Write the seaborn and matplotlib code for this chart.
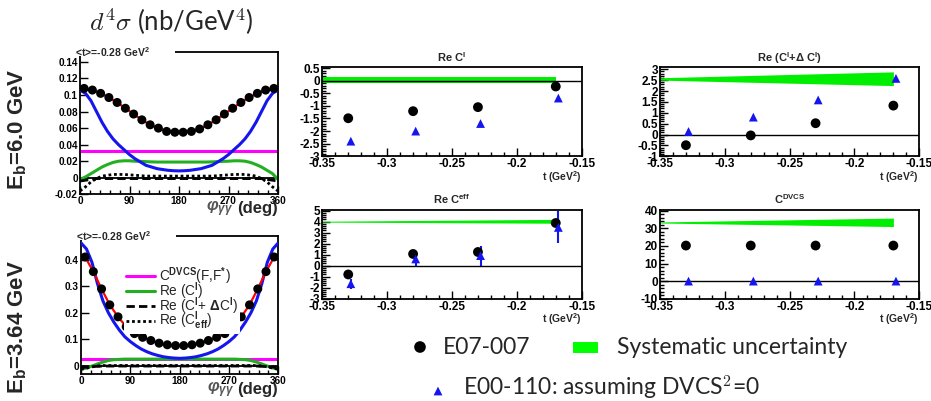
import numpy as np
import matplotlib
matplotlib.use("Agg")
import matplotlib.pyplot as plt
from matplotlib.lines import Line2D
from matplotlib.patches import Rectangle
from matplotlib.ticker import MultipleLocator, AutoMinorLocator, FuncFormatter
import seaborn as sns

# ---- left panels: d4sigma vs phi ----
phi_bins = [7.5, 22.5, 37.5, 52.5, 67.5, 82.5, 97.5, 112.5, 127.5, 142.5, 157.5, 172.5,
            187.5, 202.5, 217.5, 232.5, 247.5, 262.5, 277.5, 292.5, 307.5, 322.5, 337.5, 352.5]
phi_grid = [0, 10, 20, 30, 40, 50, 60, 70, 80, 90, 100, 110, 120, 130, 140, 150, 160, 170, 180,
            190, 200, 210, 220, 230, 240, 250, 260, 270, 280, 290, 300, 310, 320, 330, 340, 350, 360]

xs_6gev = [0.108, 0.106, 0.102, 0.097, 0.091, 0.084, 0.077, 0.070, 0.064, 0.060, 0.056, 0.055,
           0.055, 0.056, 0.059, 0.064, 0.070, 0.077, 0.084, 0.091, 0.097, 0.102, 0.106, 0.108]
bh_6gev = [0.106, 0.102, 0.093, 0.080, 0.067, 0.056, 0.047, 0.040, 0.034, 0.028, 0.023, 0.019,
           0.015, 0.013, 0.011, 0.010, 0.009, 0.0085, 0.0083, 0.0085, 0.009, 0.010, 0.011, 0.013,
           0.015, 0.019, 0.023, 0.028, 0.034, 0.040, 0.047, 0.056, 0.067, 0.080, 0.093, 0.102, 0.106]
cdvcs_6gev = [0.032] * 37
reci_6gev = [-0.002, 0.001, 0.005, 0.009, 0.013, 0.016, 0.0185, 0.020, 0.0205, 0.0205, 0.020, 0.0198,
             0.0195, 0.0192, 0.019, 0.019, 0.019, 0.019, 0.019, 0.019, 0.019, 0.019, 0.019, 0.019,
             0.0192, 0.0195, 0.0198, 0.020, 0.0205, 0.0205, 0.020, 0.0185, 0.016, 0.013, 0.009, 0.005, -0.002]
recidc_6gev = [-0.004, -0.003, -0.002, -0.001, -0.001, -0.001, -0.001, -0.001, -0.001, -0.001, -0.001, -0.001,
               -0.001, -0.001, -0.001, -0.001, -0.001, -0.001, -0.001, -0.001, -0.001, -0.001, -0.001, -0.001,
               -0.001, -0.001, -0.001, -0.001, -0.001, -0.001, -0.001, -0.001, -0.001, -0.001, -0.002, -0.003, -0.004]
receff_6gev = [-0.016, -0.011, -0.005, -0.001, 0.002, 0.003, 0.004, 0.004, 0.004, 0.0035, 0.003, 0.0025,
               0.002, 0.002, 0.002, 0.002, 0.002, 0.002, 0.002, 0.002, 0.002, 0.002, 0.002, 0.002,
               0.002, 0.0025, 0.003, 0.0035, 0.004, 0.004, 0.004, 0.003, 0.002, -0.001, -0.005, -0.011, -0.016]

xs_364gev = [0.410, 0.355, 0.290, 0.230, 0.185, 0.148, 0.122, 0.108, 0.096, 0.086, 0.080, 0.077,
             0.077, 0.080, 0.086, 0.096, 0.108, 0.122, 0.148, 0.185, 0.230, 0.290, 0.355, 0.410]
bh_364gev = [0.463, 0.440, 0.390, 0.310, 0.245, 0.200, 0.165, 0.135, 0.110, 0.092, 0.077, 0.064,
             0.054, 0.046, 0.040, 0.035, 0.032, 0.030, 0.029, 0.030, 0.032, 0.035, 0.040, 0.046,
             0.054, 0.064, 0.077, 0.092, 0.110, 0.135, 0.165, 0.200, 0.245, 0.310, 0.390, 0.440, 0.463]
cdvcs_364gev = [0.028] * 37
reci_364gev = [-0.012, -0.007, 0.000, 0.008, 0.015, 0.021, 0.024, 0.025, 0.026, 0.026, 0.026, 0.026,
               0.026, 0.026, 0.026, 0.026, 0.026, 0.026, 0.026, 0.026, 0.026, 0.026, 0.026, 0.026,
               0.026, 0.026, 0.026, 0.026, 0.026, 0.025, 0.024, 0.021, 0.015, 0.008, 0.000, -0.007, -0.012]
recidc_364gev = [-0.006, -0.004, -0.002, -0.001, 0.0, 0.0, 0.0, 0.0, 0.0, 0.0, 0.0, 0.0,
                 0.0, 0.0, 0.0, 0.0, 0.0, 0.0, 0.0, 0.0, 0.0, 0.0, 0.0, 0.0,
                 0.0, 0.0, 0.0, 0.0, 0.0, 0.0, 0.0, 0.0, 0.0, -0.001, -0.002, -0.004, -0.006]
receff_364gev = [-0.012, -0.008, -0.003, 0.000, 0.002, 0.002, 0.002, 0.002, 0.002, 0.002, 0.002, 0.002,
                 0.002, 0.002, 0.002, 0.002, 0.002, 0.002, 0.002, 0.002, 0.002, 0.002, 0.002, 0.002,
                 0.002, 0.002, 0.002, 0.002, 0.002, 0.002, 0.002, 0.002, 0.002, 0.000, -0.003, -0.008, -0.012]

# ---- right panels: fitted coefficients vs t ----
t_e07 = [-0.33, -0.28, -0.23, -0.17]
t_e00 = [-0.328, -0.278, -0.228, -0.168]
t_band = [-0.35, -0.17]

reci_e07 = [-1.49, -1.21, -1.05, -0.23]
reci_e00 = [-2.40, -2.00, -1.70, -0.69]
reci_band_lo = [-0.10, -0.10]
reci_band_hi = [0.16, 0.16]

recidc_e07 = [-0.49, -0.04, 0.52, 1.33]
recidc_e00 = [0.14, 0.80, 1.59, 2.58]
recidc_band_lo = [2.50, 2.25]
recidc_band_hi = [2.61, 2.88]

receff_e07 = [-0.80, 1.06, 1.24, 3.87]
receff_e00 = [-1.64, 0.61, 0.91, 3.47]
receff_e00_err = [0.45, 0.65, 0.90, 1.45]
receff_band_lo = [3.95, 3.85]
receff_band_hi = [4.03, 4.20]

cdvcs_e07 = [20.2, 20.2, 20.2, 20.2]
cdvcs_e00 = [0.0, 0.0, 0.0, 0.0]
cdvcs_band_lo = [33.0, 31.0]
cdvcs_band_hi = [33.6, 35.8]

W, H = 931, 401
GREEN_FIT = "#22b022"
GREEN_BAND = "#00ee00"
BLUE = "#1515ee"

sns.set_theme(style="ticks")
plt.rcParams["font.family"] = ["Liberation Sans", "DejaVu Sans"]
plt.rcParams["font.weight"] = "bold"
plt.rcParams["axes.unicode_minus"] = False
plt.rcParams["mathtext.fontset"] = "custom"
plt.rcParams["mathtext.rm"] = "Liberation Sans"
plt.rcParams["mathtext.bf"] = "Liberation Sans:bold"
plt.rcParams["mathtext.it"] = "Liberation Sans:italic"
plt.rcParams["mathtext.sf"] = "Liberation Sans"


def box(x0, y0, x1, y1):
    return [x0 / W, 1 - y1 / H, (x1 - x0) / W, (y1 - y0) / H]


fmt = FuncFormatter(lambda v, p: "0" if abs(v) < 1e-9 else f"{round(v, 6):g}")


def style(ax, size):
    for s in ax.spines.values():
        s.set_linewidth(1.3)
        s.set_color("black")
    ax.tick_params(which="both", direction="in", top=False, right=False, labelsize=size,
                   pad=1.5, colors="black", width=1.0)
    ax.tick_params(which="major", length=6)
    ax.tick_params(which="minor", length=3)
    ax.xaxis.set_major_formatter(fmt)
    ax.yaxis.set_major_formatter(fmt)
    ax.set_xlabel("")
    ax.set_ylabel("")


fig = plt.figure(figsize=(W / 100, H / 100), dpi=100)


def phi_panel(rect, dots, bh, cdvcs, reci, recidc, receff, ylim, ystep, label_y):
    ax = fig.add_axes(rect)
    ax.axhline(0, color="black", lw=1.3, zorder=1)
    sns.lineplot(x=phi_grid, y=cdvcs, ax=ax, color="#ff00ff", lw=2.2, errorbar=None, zorder=2)
    sns.lineplot(x=phi_grid, y=reci, ax=ax, color=GREEN_FIT, lw=2.2, errorbar=None, zorder=2)
    sns.lineplot(x=phi_grid, y=recidc, ax=ax, color="black", lw=2.0, errorbar=None, zorder=2)
    ax.lines[-1].set_linestyle((0, (3, 1.5)))
    sns.lineplot(x=phi_grid, y=receff, ax=ax, color="black", lw=2.0, errorbar=None, zorder=2)
    ax.lines[-1].set_linestyle((0, (1, 1)))
    sns.lineplot(x=phi_grid, y=bh, ax=ax, color=BLUE, lw=2.2, errorbar=None, zorder=3)
    sns.lineplot(x=phi_bins, y=dots, ax=ax, color="red", lw=1.6, errorbar=None, zorder=4)
    sns.scatterplot(x=phi_bins, y=dots, ax=ax, color="black", s=42, edgecolor="none", zorder=5)
    ax.set_xlim(0, 360)
    ax.set_ylim(*ylim)
    ax.xaxis.set_major_locator(MultipleLocator(90))
    ax.xaxis.set_minor_locator(AutoMinorLocator(5))
    ax.yaxis.set_major_locator(MultipleLocator(ystep))
    style(ax, 7.2)
    ax.add_patch(Rectangle((-0.01, 0.97), 0.49, 0.06, transform=ax.transAxes, facecolor="white",
                           edgecolor="none", clip_on=False, zorder=10))
    ax.text(-0.025, 1.0, r"<t>=-0.28 GeV$^{\mathbf{2}}$", transform=ax.transAxes, fontsize=7.5,
            ha="left", va="center", zorder=11)
    ax.text(1.0, label_y, "(deg)", transform=ax.transAxes, fontsize=12, ha="right", va="center")
    ax.text(0.775, label_y, r"$\varphi_{\gamma\gamma}$", transform=ax.transAxes, fontsize=12,
            ha="right", va="center", color="#555555")
    return ax


ax_top = phi_panel(box(80, 52, 278, 194.3), xs_6gev, bh_6gev, cdvcs_6gev, reci_6gev, recidc_6gev,
                   receff_6gev, (-0.02, 0.152), 0.02, -0.10)
ax_bot = phi_panel(box(81, 235.7, 278.3, 374.3), xs_364gev, bh_364gev, cdvcs_364gev, reci_364gev,
                   recidc_364gev, receff_364gev, (-0.031, 0.49), 0.1, -0.112)

handles = [Line2D([], [], color="#ff00ff", lw=2.2),
           Line2D([], [], color=GREEN_FIT, lw=2.2),
           Line2D([], [], color="black", lw=2.0, ls=(0, (3, 1.5))),
           Line2D([], [], color="black", lw=2.0, ls=(0, (1, 1)))]
labels = [r"C$^{\rm DVCS}$(F,F$^{*}$)", r"Re (C$^{\rm I}$)", r"Re (C$^{\rm I}$+ $\Delta$C$^{\rm I}$)",
          r"Re (C$^{\rm I}_{\rm eff}$)"]
leg = ax_bot.legend(handles, labels, loc="upper left", bbox_to_anchor=(0.22, 0.80),
                    prop={"size": 9.8, "weight": "normal"}, frameon=True, facecolor="white",
                    edgecolor="none", framealpha=1, handlelength=2.1, handletextpad=0.3,
                    labelspacing=-0.5, borderpad=0.15, borderaxespad=0)
leg.set_zorder(8)


def t_panel(rect, title, e07, e00, lo, hi, ylim, ystep, err=None):
    ax = fig.add_axes(rect)
    ax.fill_between(t_band, lo, hi, color=GREEN_BAND, lw=0, zorder=1)
    ax.axhline(0, color="black", lw=1.0, zorder=2)
    sns.scatterplot(x=t_e07, y=e07, ax=ax, color="black", s=50, edgecolor="none", zorder=5)
    if err is not None:
        ax.errorbar(t_e00, e00, yerr=err, fmt="none", ecolor=BLUE, elinewidth=1.5, capsize=0, zorder=4)
    sns.scatterplot(x=t_e00, y=e00, ax=ax, color=BLUE, marker="^", s=40, edgecolor="none", zorder=6)
    ax.set_xlim(-0.35, -0.15)
    ax.set_ylim(*ylim)
    ax.xaxis.set_major_locator(MultipleLocator(0.05))
    ax.xaxis.set_minor_locator(AutoMinorLocator(5))
    ax.yaxis.set_major_locator(MultipleLocator(ystep))
    ax.yaxis.set_minor_locator(AutoMinorLocator(5))
    style(ax, 8.5)
    ax.set_title(title, fontsize=8, pad=4, weight="bold")
    ax.text(1.0, -0.23, r"t (GeV$^{\mathbf{2}}$)", transform=ax.transAxes, fontsize=7.5,
            ha="right", va="center")
    return ax


t_panel(box(322.3, 67.3, 581.7, 156.3), r"Re C$^{\mathbf{I}}$", reci_e07, reci_e00,
        reci_band_lo, reci_band_hi, (-3, 0.53), 0.5)
t_panel(box(660, 67.3, 919.3, 156.3), r"Re (C$^{\mathbf{I}}$+$\Delta$ C$^{\mathbf{I}}$)", recidc_e07,
        recidc_e00, recidc_band_lo, recidc_band_hi, (-1, 3.09), 0.5)
t_panel(box(322.3, 210, 581.7, 298.7), r"Re C$^{\mathbf{eff}}$", receff_e07, receff_e00,
        receff_band_lo, receff_band_hi, (-3, 5.05), 1, err=receff_e00_err)
t_panel(box(660, 210, 919.3, 298.7), r"C$^{\mathbf{DVCS}}$", cdvcs_e07, cdvcs_e00,
        cdvcs_band_lo, cdvcs_band_hi, (-10, 40.4), 10)

# row labels and title
fig.text(18 / W, 1 - 129 / H, r"E$_{\mathbf{b}}$=6.0 GeV", rotation=90, ha="center", va="center",
         fontsize=16, weight="bold")
fig.text(18 / W, 1 - 327 / H, r"E$_{\mathbf{b}}$=3.64 GeV", rotation=90, ha="center", va="center",
         fontsize=16, weight="bold")
fig.text(171 / W, 1 - 22 / H, r"$d^4\sigma$ (nb/GeV$^4$)", ha="center", va="center", fontsize=18.5,
         weight="normal", family="Lato", math_fontfamily="cm")

# shared legend at the bottom right
lax = fig.add_axes([0, 0, 1, 1])
lax.set_xlim(0, W)
lax.set_ylim(H, 0)
lax.axis("off")
lax.scatter([420], [347], s=70, color="black", edgecolor="none")
lax.add_patch(Rectangle((573, 342), 25, 11, facecolor="#00ff00", edgecolor="none"))
lax.scatter([438], [391], s=40, color=BLUE, marker="^", edgecolor="none")
lax.text(443, 347, "E07-007", fontsize=16.5, weight="normal", family="Lato", va="center", ha="left")
lax.text(617, 347, "Systematic uncertainty", fontsize=16.5, weight="normal", family="Lato",
         va="center", ha="left")
lax.text(463, 388, r"E00-110: assuming DVCS$^2$=0", fontsize=16.5, weight="normal", family="Lato",
         va="center", ha="left", math_fontfamily="cm")

fig.savefig("out.png", dpi=100)
